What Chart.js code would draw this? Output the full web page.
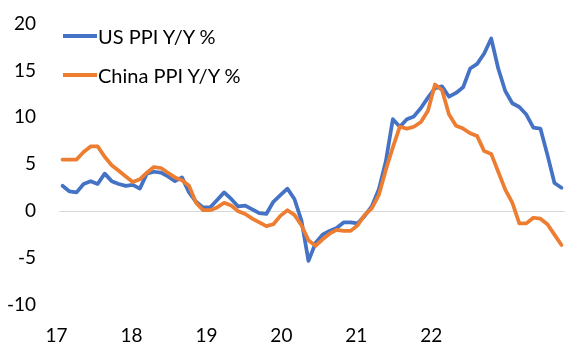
<!DOCTYPE html>
<html>
<head>
<meta charset="utf-8">
<script src="https://cdn.jsdelivr.net/npm/chart.js@4.4.0/dist/chart.umd.min.js"></script>
<style>
	body { margin: 0; background: #fff; }
	#wrap { position: relative; width: 584px; height: 353px; }
	#legend { position: absolute; left: 63px; top: 25px; font-family: Lato, sans-serif; font-size: 20px; color: #000; }
	.item { display: flex; align-items: center; height: 22px; margin-bottom: 17px; }
	.swatch { width: 34px; height: 4px; margin-right: 1px; }
</style>
</head>
<body>
<div id="wrap">
	<canvas id="myChart"></canvas>
	<div id="legend">
		<div class="item"><span class="swatch" style="background:#4472C4"></span>US PPI Y/Y %</div>
		<div class="item"><span class="swatch" style="background:#ED7D31"></span>China PPI Y/Y %</div>
	</div>
</div>
<script>
// monthly, May 2017 .. Apr 2023
let usPPI = [
	2.7, 2.1, 2.0, 2.9, 3.2, 2.9, 4.0, 3.2, 2.9, 2.7, 2.8, 2.4,
	4.0, 4.2, 4.1, 3.7, 3.2, 3.6, 2.0, 1.0, 0.4, 0.4, 1.2, 2.0,
	1.3, 0.5, 0.6, 0.2, -0.2, -0.3, 1.0, 1.7, 2.4, 1.3, -1.0, -5.3,
	-3.4, -2.5, -2.1, -1.8, -1.2, -1.2, -1.3, -0.5, 0.5, 2.3, 5.3, 9.8,
	9.0, 9.8, 10.1, 11.0, 12.1, 13.1, 13.3, 12.2, 12.6, 13.2, 15.2, 15.7,
	16.8, 18.4, 15.2, 12.8, 11.5, 11.1, 10.3, 8.9, 8.8, 6.0, 3.0, 2.5
];
let chinaPPI = [
	5.5, 5.5, 5.5, 6.3, 6.9, 6.9, 5.8, 4.9, 4.3, 3.7, 3.1, 3.4,
	4.1, 4.7, 4.6, 4.1, 3.6, 3.3, 2.7, 0.9, 0.1, 0.1, 0.4, 0.9,
	0.6, 0.0, -0.3, -0.8, -1.2, -1.6, -1.4, -0.5, 0.1, -0.4, -1.5, -3.1,
	-3.7, -3.0, -2.4, -2.0, -2.1, -2.1, -1.5, -0.4, 0.3, 1.7, 4.4, 6.8,
	9.0, 8.8, 9.0, 9.5, 10.7, 13.5, 12.9, 10.3, 9.1, 8.8, 8.3, 8.0,
	6.4, 6.1, 4.2, 2.3, 0.9, -1.3, -1.3, -0.7, -0.8, -1.4, -2.5, -3.6
];
let yearLabels = ["17", "18", "19", "20", "21", "22"];
let yTicks = [-10, -5, 0, 5, 10, 15, 20];

function toPoints(arr) {
	return arr.map((v, i) => ({ x: i, y: v }));
}

const ctx = document.getElementById("myChart").getContext("2d");
const myChart = new Chart(ctx, {
	type: "line",
	data: {
		datasets: [
			{
				label: "US PPI Y/Y %",
				data: toPoints(usPPI),
				borderColor: "#4472C4",
				backgroundColor: "#4472C4",
				borderWidth: 3.75,
				pointRadius: 0,
				order: 1,
			},
			{
				label: "China PPI Y/Y %",
				data: toPoints(chinaPPI),
				borderColor: "#ED7D31",
				backgroundColor: "#ED7D31",
				borderWidth: 3.75,
				pointRadius: 0,
				order: 0,
			},
		],
	},
	options: {
		responsive: true,
		maintainAspectRatio: false,
		animation: false,
		layout: { padding: { top: 23.5, right: 19, bottom: 0, left: 0 } },
		elements: { line: { borderJoinStyle: "round", borderCapStyle: "round", tension: 0 } },
		plugins: {
			legend: { display: false },
			tooltip: { enabled: false },
		},
		scales: {
			x: {
				type: "linear",
				min: -0.5,
				max: 71.5,
				grid: { display: false, drawTicks: false },
				border: { display: false },
				afterFit: (scale) => { scale.height = 48; },
				afterBuildTicks: (scale) => {
					scale.ticks = yearLabels.map((_, k) => ({ value: -0.5 + k * 32 / 3 }));
				},
				ticks: {
					autoSkip: false,
					maxRotation: 0,
					labelOffset: -2.5,
					padding: 19,
					color: "#000",
					font: { family: "Lato", size: 19 },
					callback: (value, index) => yearLabels[index],
				},
			},
			y: {
				min: -10,
				max: 20,
				afterFit: (scale) => {
					scale.width = 59;
					scale.paddingTop = 0;
					scale.paddingBottom = 0;
				},
				afterBuildTicks: (scale) => {
					scale.ticks = yTicks.map(v => ({ value: v }));
				},
				grid: {
					drawTicks: false,
					color: (c) => (c.tick && c.tick.value === 0 ? "#d9d9d9" : "rgba(0,0,0,0)"),
					lineWidth: 1,
				},
				border: { display: false },
				ticks: {
					padding: 23,
					color: "#000",
					font: { family: "Lato", size: 19 },
				},
			},
		},
	},
});
</script>
</body>
</html>
